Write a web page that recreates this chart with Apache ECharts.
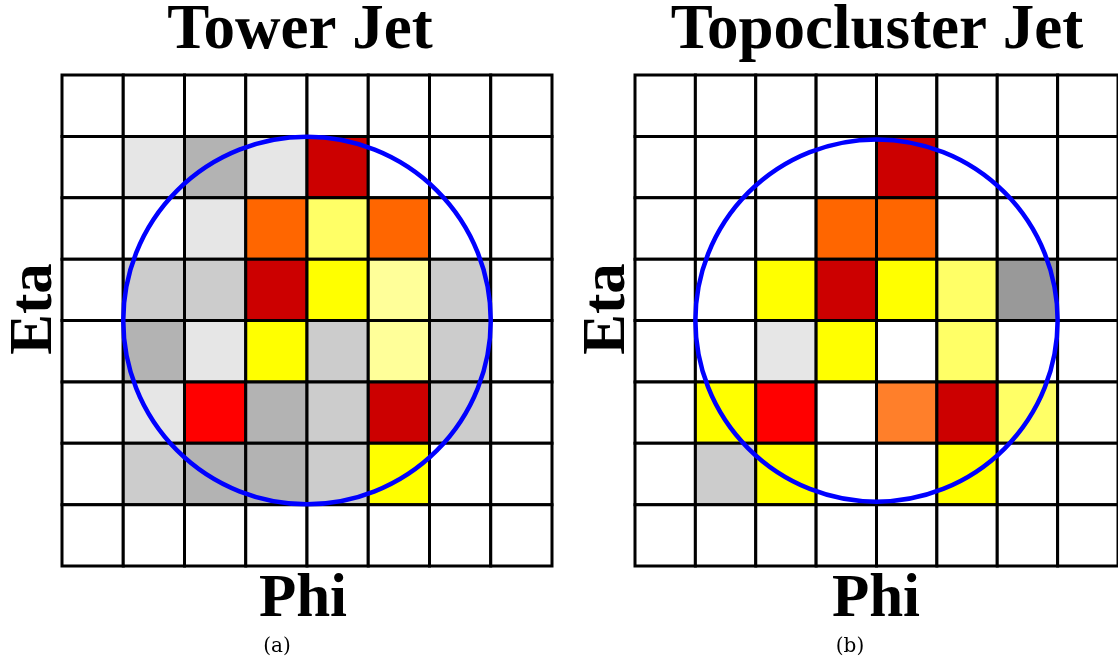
<!DOCTYPE html>
<html>
<head>
<meta charset="utf-8">
<title>Tower Jet vs Topocluster Jet</title>
<script src="https://cdn.jsdelivr.net/npm/echarts@6/dist/echarts.min.js"></script>
<style>
  html, body { margin: 0; padding: 0; background: #ffffff; }
  #chart { width: 1118px; height: 667px; }
</style>
</head>
<body>
<div id="chart"></div>
<script>
// Cell energy level per calorimeter cell, rows listed top (row 0) to bottom.
// 0 = empty, 1-4 = grey (noise), 5-7 = yellow, 8-9 = orange, 10-11 = red.
const towerRows = [
  [0, 0, 0, 0, 0, 0, 0, 0],
  [0, 1, 3, 1, 11, 0, 0, 0],
  [0, 0, 1, 9, 6, 9, 0, 0],
  [0, 2, 2, 11, 7, 5, 2, 0],
  [0, 3, 1, 7, 2, 5, 2, 0],
  [0, 1, 10, 3, 2, 11, 2, 0],
  [0, 2, 3, 3, 2, 7, 0, 0],
  [0, 0, 0, 0, 0, 0, 0, 0]
];
const topoRows = [
  [0, 0, 0, 0, 0, 0, 0, 0],
  [0, 0, 0, 0, 11, 0, 0, 0],
  [0, 0, 0, 9, 9, 0, 0, 0],
  [0, 0, 7, 11, 7, 6, 4, 0],
  [0, 0, 1, 7, 0, 6, 0, 0],
  [0, 7, 10, 0, 8, 11, 6, 0],
  [0, 2, 7, 0, 0, 7, 0, 0],
  [0, 0, 0, 0, 0, 0, 0, 0]
];
// Jet cone: centre (phi, eta) in cell units and radius in cells.
const towerJet = [[4, 4, 3]];
const topoJet = [[4, 4, 3]];

const panelTitles = ['Tower Jet', 'Topocluster Jet'];
const panelCaptions = ['(a)', '(b)'];
const axisNames = { x: 'Phi', y: 'Eta' };

const PALETTE = [
  '#ffffff', '#e6e6e6', '#cccccc', '#b3b3b3', '#999999',
  '#ffff99', '#ffff66', '#ffff00', '#ff7f2a', '#ff6600',
  '#ff0000', '#cc0000'
];

function toCells(rows) {
  const out = [];
  rows.forEach((row, r) => row.forEach((v, c) => out.push([c, r, v])));
  return out;
}

function cellSeries(gridIndex, rows) {
  return {
    type: 'custom',
    xAxisIndex: gridIndex,
    yAxisIndex: gridIndex,
    z: 2,
    data: toCells(rows),
    renderItem: function (params, api) {
      const p = api.coord([api.value(0), api.value(1)]);
      const s = api.size([1, 1]);
      return {
        type: 'rect',
        shape: { x: p[0], y: p[1], width: s[0], height: s[1] },
        style: { fill: PALETTE[api.value(2)], stroke: '#000000', lineWidth: 3 }
      };
    }
  };
}

function coneSeries(gridIndex, jet) {
  return {
    type: 'custom',
    xAxisIndex: gridIndex,
    yAxisIndex: gridIndex,
    z: 5,
    clip: false,
    data: jet,
    renderItem: function (params, api) {
      const c = api.coord([api.value(0), api.value(1)]);
      const r = api.size([api.value(2), api.value(2)])[0];
      return {
        type: 'circle',
        shape: { cx: c[0], cy: c[1], r: r },
        style: { fill: 'none', stroke: '#0000ff', lineWidth: 4.5 }
      };
    }
  };
}

function xAxis(gridIndex) {
  return {
    type: 'value', gridIndex: gridIndex, min: 0, max: 8, interval: 1,
    axisLine: { show: false }, axisTick: { show: false },
    axisLabel: { show: false }, splitLine: { show: false }
  };
}
function yAxis(gridIndex) {
  return {
    type: 'value', gridIndex: gridIndex, min: 0, max: 8, interval: 1, inverse: true,
    axisLine: { show: false }, axisTick: { show: false },
    axisLabel: { show: false }, splitLine: { show: false }
  };
}

// Panel text anchors (title / x-name centre, y-name centre)
const titleX = [300, 877];
const phiX = [303, 876];
const etaX = [35, 608];
const captionX = [277, 850];
const BOLD_FONT = '"Liberation Serif"';

const texts = [];
[0, 1].forEach(i => {
  texts.push({
    type: 'text', x: titleX[i], y: 31.5, z: 10,
    style: { text: panelTitles[i], align: 'center', verticalAlign: 'middle', fill: '#000',
      font: 'bold 63px ' + BOLD_FONT }
  });
  texts.push({
    type: 'text', x: phiX[i], y: 600, z: 10,
    style: { text: axisNames.x, align: 'center', verticalAlign: 'middle', fill: '#000',
      font: 'bold 61px ' + BOLD_FONT }
  });
  texts.push({
    type: 'text', x: etaX[i], y: 309, rotation: Math.PI / 2, z: 10,
    style: { text: axisNames.y, align: 'center', verticalAlign: 'middle', fill: '#000',
      font: 'bold 61px ' + BOLD_FONT }
  });
  texts.push({
    type: 'text', x: captionX[i], y: 647, z: 10,
    style: { text: panelCaptions[i], align: 'center', verticalAlign: 'middle', fill: '#000',
      font: '20px "DejaVu Serif"' }
  });
});

const chart = echarts.init(document.getElementById('chart'), null, { renderer: 'canvas' });
chart.setOption({
  animation: false,
  backgroundColor: '#ffffff',
  grid: [
    { left: 62, top: 75, width: 490, height: 491 },
    { left: 635, top: 75, width: 491, height: 491 }
  ],
  xAxis: [xAxis(0), xAxis(1)],
  yAxis: [yAxis(0), yAxis(1)],
  graphic: texts,
  series: [
    cellSeries(0, towerRows),
    cellSeries(1, topoRows),
    coneSeries(0, towerJet),
    coneSeries(1, topoJet)
  ]
});
</script>
</body>
</html>
